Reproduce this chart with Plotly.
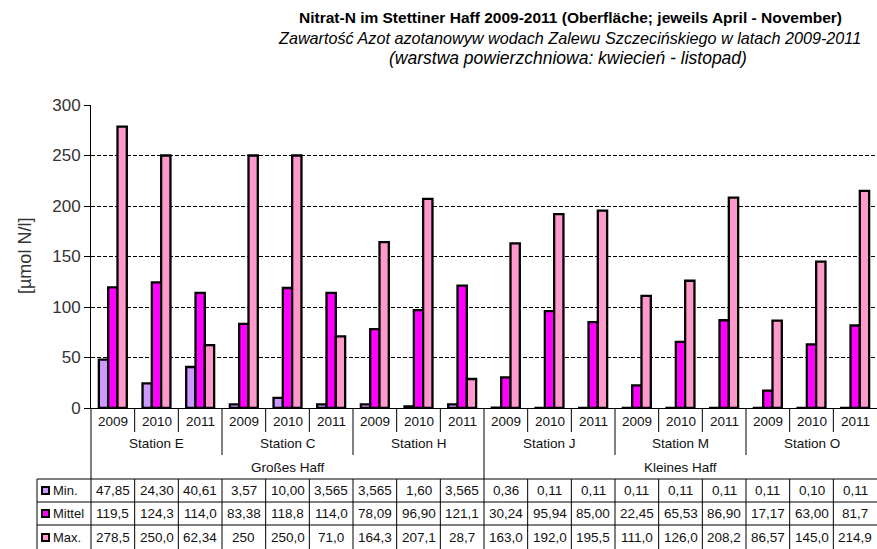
import plotly.graph_objects as go

# ---------------- data ----------------
years = ["2009", "2010", "2011"] * 6
stations = ["Station E", "Station C", "Station H", "Station J", "Station M", "Station O"]
regions = ["Großes Haff", "Kleines Haff"]
series_names = ["Min.", "Mittel", "Max."]

min_vals = [47.85, 24.30, 40.61, 3.57, 10.00, 3.565, 3.565, 1.60, 3.565,
            0.36, 0.11, 0.11, 0.11, 0.11, 0.11, 0.11, 0.10, 0.11]
mittel_vals = [119.5, 124.3, 114.0, 83.38, 118.8, 114.0, 78.09, 96.90, 121.1,
               30.24, 95.94, 85.00, 22.45, 65.53, 86.90, 17.17, 63.00, 81.7]
max_vals = [278.5, 250.0, 62.34, 250.0, 250.0, 71.0, 164.3, 207.1, 28.7,
            163.0, 192.0, 195.5, 111.0, 126.0, 208.2, 86.57, 145.0, 214.9]

min_labels = ["47,85", "24,30", "40,61", "3,57", "10,00", "3,565", "3,565", "1,60", "3,565",
              "0,36", "0,11", "0,11", "0,11", "0,11", "0,11", "0,11", "0,10", "0,11"]
mittel_labels = ["119,5", "124,3", "114,0", "83,38", "118,8", "114,0", "78,09", "96,90", "121,1",
                 "30,24", "95,94", "85,00", "22,45", "65,53", "86,90", "17,17", "63,00", "81,7"]
max_labels = ["278,5", "250,0", "62,34", "250", "250,0", "71,0", "164,3", "207,1", "28,7",
              "163,0", "192,0", "195,5", "111,0", "126,0", "208,2", "86,57", "145,0", "214,9"]

y_ticks = [0, 50, 100, 150, 200, 250, 300]
colors = ["#CC99FF", "#FF00FF", "#FF99CC"]

# ---------------- layout geometry ----------------
W, H = 877, 549
ML, MR, MT, MB = 91, 0, 105, 141
PW, PH = W - ML - MR, H - MT - MB


def pyp(p):  # pixel y -> paper y
    return (H - MB - p) / PH


def pxp(p):  # pixel x -> paper x
    return (p - ML) / PW


FONT = "Liberation Sans, Arial, sans-serif"
n = len(years)
idx = list(range(n))
per_station = 3
per_region = 9

fig = go.Figure()
for name, vals, col in zip(series_names, [min_vals, mittel_vals, max_vals], colors):
    fig.add_trace(go.Bar(x=idx, y=vals, name=name,
                         marker=dict(color=col, line=dict(color="black", width=2.3))))

shapes = []
annotations = []

y_axis_px = H - MB          # 408
year_row_bottom = 432
station_div_bottom = 455
table_top = 479
row_lines = [479, 502, 525]
row_centers = [490.5, 513.5, 537.5]

for k in range(n - 1):
    xpos = k + 0.5
    if (k + 1) % per_region == 0:
        shapes.append(dict(type="line", xref="x", yref="paper", x0=xpos, x1=xpos,
                           y0=pyp(y_axis_px), y1=pyp(H), line=dict(color="black", width=1)))
        continue
    bottom = station_div_bottom if (k + 1) % per_station == 0 else year_row_bottom
    shapes.append(dict(type="line", xref="x", yref="paper", x0=xpos, x1=xpos,
                       y0=pyp(y_axis_px), y1=pyp(bottom), line=dict(color="black", width=1)))
    shapes.append(dict(type="line", xref="x", yref="paper", x0=xpos, x1=xpos,
                       y0=pyp(table_top), y1=pyp(H), line=dict(color="black", width=1)))

shapes.append(dict(type="line", xref="paper", yref="paper", x0=0, x1=0,
                   y0=pyp(y_axis_px), y1=pyp(H), line=dict(color="black", width=1)))
shapes.append(dict(type="line", xref="paper", yref="paper", x0=pxp(37), x1=pxp(37),
                   y0=pyp(table_top), y1=pyp(H), line=dict(color="black", width=1)))
for ry in row_lines:
    shapes.append(dict(type="line", xref="paper", yref="paper", x0=pxp(37), x1=1,
                       y0=pyp(ry), y1=pyp(ry), line=dict(color="black", width=1)))

lab_font = dict(family=FONT, size=13.5, color="#111")


def ann(x, y, text, xref="x", font=lab_font, **kw):
    d = dict(x=x, y=y, xref=xref, yref="paper", text=text, showarrow=False,
             xanchor="center", yanchor="middle", font=font)
    d.update(kw)
    annotations.append(d)


for k, yr in enumerate(years):
    ann(k, pyp(421), yr)
for s, st in enumerate(stations):
    ann(s * per_station + 1, pyp(443), st)
for r, rg in enumerate(regions):
    ann(r * per_region + 4, pyp(467), rg)

for labels, rc in zip([min_labels, mittel_labels, max_labels], row_centers):
    for k, t in enumerate(labels):
        ann(k, pyp(rc), t)

for name, col, rc in zip(series_names, colors, row_centers):
    shapes.append(dict(type="rect", xref="paper", yref="paper",
                       x0=pxp(42), x1=pxp(49), y0=pyp(rc + 3.5), y1=pyp(rc - 3.5),
                       fillcolor=col, line=dict(color="black", width=2)))
    ann(pxp(51), pyp(rc), name, xref="paper", xanchor="left",
        font=dict(family=FONT, size=13, color="#111"))

ann(pxp(25), pyp(256), "[µmol N/l]", xref="paper", textangle=-90,
    font=dict(family=FONT, size=18, color="#333"))

TFONT = "Liberation Sans, Arial, sans-serif"
ann(pxp(570), pyp(17),
    "<b>Nitrat-N im Stettiner Haff 2009-2011 (Oberfläche; jeweils April - November)</b>",
    xref="paper", font=dict(family=TFONT, size=15.5, color="black"))
ann(pxp(569), pyp(38),
    "<i>Zawartość Azot azotanowyw wodach Zalewu Szczecińskiego w latach 2009-2011</i>",
    xref="paper", font=dict(family=TFONT, size=16.2, color="black"))
ann(pxp(568), pyp(58), "<i>(warstwa powierzchniowa: kwiecień - listopad)</i>",
    xref="paper", font=dict(family=TFONT, size=17.5, color="black"))

fig.update_layout(
    width=W, height=H,
    margin=dict(l=ML, r=MR, t=MT, b=MB, pad=0),
    paper_bgcolor="white", plot_bgcolor="white",
    barmode="group", bargap=0.36, bargroupgap=0,
    showlegend=False,
    shapes=shapes, annotations=annotations,
    xaxis=dict(range=[-0.5, n - 0.5], showticklabels=False, ticks="", showgrid=False,
               zeroline=False, showline=True, linecolor="black", linewidth=1, fixedrange=True),
    yaxis=dict(range=[0, 300], tickvals=y_ticks, ticks="outside", ticklen=6, tickcolor="black",
               showline=True, linecolor="black", linewidth=1, showgrid=True, gridcolor="black",
               gridwidth=1, griddash="4px,2px", zeroline=False,
               tickfont=dict(family=FONT, size=17, color="#333")),
)

fig.write_html("out.html", config={"displayModeBar": False},
               post_script="document.body.style.margin='0';document.body.style.overflow='hidden';")
